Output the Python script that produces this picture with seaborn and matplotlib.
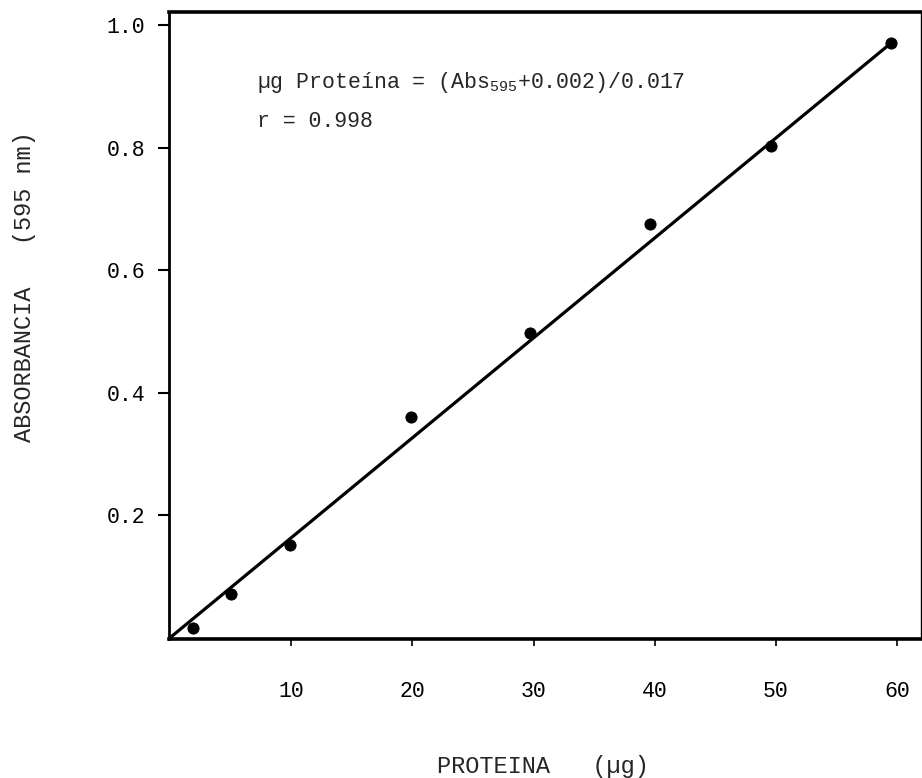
import matplotlib
matplotlib.use("Agg")
import matplotlib.pyplot as plt
import seaborn as sns
import pandas as pd

# Data
protein_ug = [1.9, 5.0, 9.9, 19.9, 29.7, 39.6, 49.6, 59.5]
absorbance = [0.016, 0.072, 0.151, 0.360, 0.498, 0.675, 0.803, 0.971]
fit_x = [0.0, 59.5]
fit_y = [0.0, 0.971]
x_ticks = [10, 20, 30, 40, 50, 60]
y_ticks = [0.2, 0.4, 0.6, 0.8, 1.0]
equation = "\u00b5g Prote\u00edna = (Abs$_{595}$+0.002)/0.017"
r_text = "r = 0.998"
x_label = "PROTEINA   (\u00b5g)"
y_label = "ABSORBANCIA   (595 nm)"

sns.set_style("ticks")
plt.rcParams["font.family"] = ["Liberation Mono", "DejaVu Sans"]
plt.rcParams["mathtext.fontset"] = "custom"
plt.rcParams["mathtext.rm"] = "Liberation Mono"
plt.rcParams["mathtext.it"] = "Liberation Mono"
plt.rcParams["mathtext.default"] = "rm"

pts = pd.DataFrame({"x": protein_ug, "y": absorbance})
fit = pd.DataFrame({"x": fit_x, "y": fit_y})

fig = plt.figure(figsize=(9.22, 7.78), dpi=100)
ax = fig.add_axes([169 / 922, 1 - 639 / 778, (921 - 169) / 922, (639 - 12) / 778])

sns.lineplot(data=fit, x="x", y="y", ax=ax, color="black", linewidth=2.3)
sns.scatterplot(data=pts, x="x", y="y", ax=ax, color="black", s=65, edgecolor="black", zorder=3)

ax.set_xlim(-0.08, 61.96)
ax.set_ylim(-0.002, 1.0215)
ax.set_xticks(x_ticks)
ax.set_xticklabels([str(t) for t in x_ticks])
ax.set_yticks(y_ticks)
ax.set_yticklabels([f"{t:.1f}" for t in y_ticks])
ax.tick_params(axis="x", direction="out", length=5, width=1.2, pad=25, labelsize=15.5, colors="black")
ax.tick_params(axis="y", direction="out", length=8, width=1.5, pad=9, labelsize=15.5, colors="black")
ax.set_xlabel("")
ax.set_ylabel("")

for side, lw in [("left", 2.0), ("bottom", 2.6), ("top", 2.6), ("right", 1.0)]:
    ax.spines[side].set_visible(True)
    ax.spines[side].set_linewidth(lw)
    ax.spines[side].set_color("black")

ax.text(7.18, 0.907, equation, fontsize=15.5, va="center", ha="left")
ax.text(7.18, 0.842, r_text, fontsize=15.5, va="center", ha="left")

fig.text(543 / 922, 1 - 767 / 778, x_label, fontsize=17, ha="center", va="center")
fig.text(25 / 922, 1 - 287 / 778, y_label, fontsize=17, ha="center", va="center", rotation=90)

fig.savefig("out.png", dpi=100, facecolor="white")
